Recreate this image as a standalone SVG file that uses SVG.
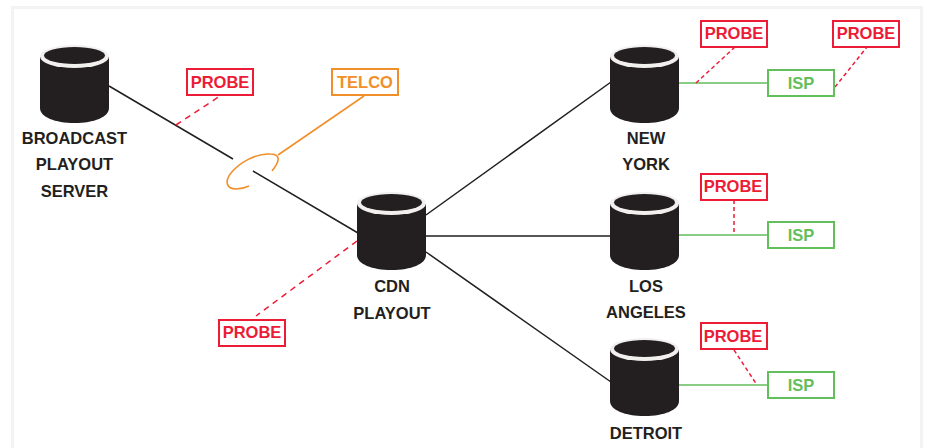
<svg xmlns="http://www.w3.org/2000/svg" width="925" height="448" viewBox="0 0 925 448">
<style>
.lbl{font-family:"Liberation Sans",Arial,sans-serif;font-weight:700;font-size:16.500px;text-anchor:middle}
.n{fill:#231f20}
.r{fill:#ed1c36}.g{fill:#63bf5c}.o{fill:#f18f2a}
.box{fill:#fff;stroke-width:2}
.link{fill:none;stroke:#231f20;stroke-width:1.500}
.dash{fill:none;stroke:#ed1c36;stroke-width:1.500;stroke-dasharray:6 5}
.dot{fill:none;stroke:#ed1c36;stroke-width:1.500;stroke-dasharray:4 3}
.isp{fill:none;stroke:#63bf5c;stroke-width:1.500}
.tel{fill:none;stroke:#f18f2a;stroke-width:1.600}
</style>
<defs>
<g id="cyl">
<path d="M0 10V61C0 70 15 76 34.500 76S69 70 69 61V10Z" fill="#231f20"/>
<ellipse cx="34.500" cy="9.500" rx="34.500" ry="11.500" fill="#f1f0ef"/>
<ellipse cx="34.500" cy="8.500" rx="30.500" ry="8.500" fill="#231f20"/>
</g>
</defs>
<rect width="925" height="448" fill="#fff"/>
<path d="M12.500 448V7.500H921.500V448" fill="none" stroke="#f3f3f4" stroke-width="3"/>
<g id="connectors">
<path class="link" d="M109 86L233 159M253 171L358 233M426 215L611 82M426 236H611M426 252L611 382"/>
<path class="dash" d="M176 125L220 96M357 241L256 316"/>
<path class="isp" d="M679 83H768M679 235H768M679 385H768"/>
<path class="dot" d="M696 83L735 47M835 87L867 47M734 200V235M734 350L757 385"/>
<path class="tel" d="M278 155L364 96"/>
<path class="tel" d="M272 171C281 160 280 154 270 154C256 153 239 163 231 173C224 182 227 189 236 189C241 189 245 188 249 186"/>
</g>
<g id="node-broadcast"><use href="#cyl" x="40" y="47"/><text class="lbl n" x="74.500" y="144">BROADCAST</text><text class="lbl n" x="74.500" y="170">PLAYOUT</text><text class="lbl n" x="74.500" y="197">SERVER</text></g>
<g id="node-cdn"><use href="#cyl" x="357" y="194"/><text class="lbl n" x="392" y="292">CDN</text><text class="lbl n" x="392" y="319">PLAYOUT</text></g>
<g id="node-newyork"><use href="#cyl" x="610" y="47"/><text class="lbl n" x="646" y="144">NEW</text><text class="lbl n" x="646" y="170">YORK</text></g>
<g id="node-losangeles"><use href="#cyl" x="610" y="194"/><text class="lbl n" x="646" y="292">LOS</text><text class="lbl n" x="646" y="318">ANGELES</text></g>
<g id="node-detroit"><use href="#cyl" x="610" y="340"/><text class="lbl n" x="646" y="439">DETROIT</text></g>
<g id="probe-1"><rect class="box" stroke="#ed1c36" x="187" y="69" width="66" height="26"/><text class="lbl r" x="220" y="88">PROBE</text></g>
<g id="telco"><rect class="box" stroke="#f18f2a" x="332" y="69" width="66" height="26"/><text class="lbl o" x="365" y="88">TELCO</text></g>
<g id="probe-2"><rect class="box" stroke="#ed1c36" x="219" y="320" width="66" height="26"/><text class="lbl r" x="252" y="338">PROBE</text></g>
<g id="probe-3"><rect class="box" stroke="#ed1c36" x="701" y="21" width="66" height="26"/><text class="lbl r" x="734" y="39">PROBE</text></g>
<g id="probe-4"><rect class="box" stroke="#ed1c36" x="833" y="21" width="66" height="26"/><text class="lbl r" x="866" y="39">PROBE</text></g>
<g id="probe-5"><rect class="box" stroke="#ed1c36" x="701" y="174" width="66" height="26"/><text class="lbl r" x="733" y="192">PROBE</text></g>
<g id="probe-6"><rect class="box" stroke="#ed1c36" x="701" y="323" width="66" height="26"/><text class="lbl r" x="733" y="342">PROBE</text></g>
<g id="isp-1"><rect class="box" stroke="#63bf5c" x="768" y="70" width="66" height="26"/><text class="lbl g" x="801" y="89">ISP</text></g>
<g id="isp-2"><rect class="box" stroke="#63bf5c" x="768" y="222" width="66" height="26"/><text class="lbl g" x="801" y="241">ISP</text></g>
<g id="isp-3"><rect class="box" stroke="#63bf5c" x="768" y="372" width="66" height="26"/><text class="lbl g" x="801" y="391">ISP</text></g>
</svg>
